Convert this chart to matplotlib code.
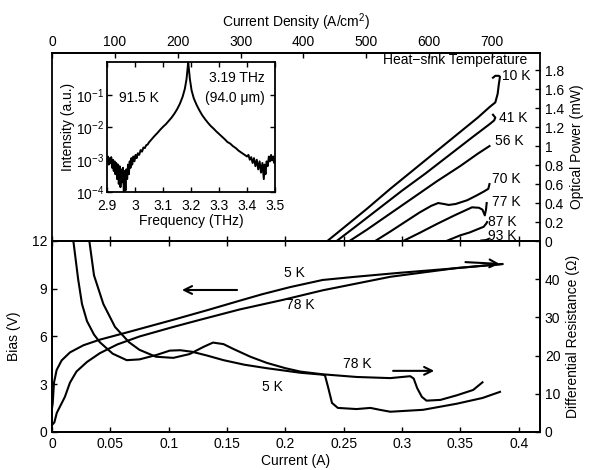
import matplotlib
matplotlib.use("Agg")
import matplotlib.pyplot as plt
import numpy as np
from matplotlib.ticker import FuncFormatter, NullLocator

plt.rcParams['font.family'] = ['Liberation Sans', 'DejaVu Sans']
plt.rcParams['font.size'] = 10
plt.rcParams['mathtext.fontset'] = 'custom'
plt.rcParams['mathtext.rm'] = 'Liberation Sans'
plt.rcParams['mathtext.it'] = 'Liberation Sans:italic'
plt.rcParams['axes.linewidth'] = 1.3
plt.rcParams['xtick.direction'] = 'in'
plt.rcParams['ytick.direction'] = 'in'
plt.rcParams['xtick.major.size'] = 3.5
plt.rcParams['ytick.major.size'] = 3.5
plt.rcParams['xtick.major.width'] = 1.0
plt.rcParams['ytick.major.width'] = 1.0

# current (A) -> current density (A/cm^2)
J_PER_A = 1856.0

# light-current curves (top panel), current in A, power in mW
li_temps = ['10 K', '41 K', '56 K', '70 K', '77 K', '87 K', '93 K']
li_current = [
    [0.236, 0.25, 0.27, 0.29, 0.31, 0.33, 0.35, 0.365, 0.375, 0.380, 0.382, 0.383, 0.384, 0.383, 0.380, 0.378],
    [0.244, 0.26, 0.28, 0.30, 0.32, 0.34, 0.36, 0.375, 0.379, 0.380, 0.378],
    [0.255, 0.27, 0.29, 0.31, 0.33, 0.35, 0.365, 0.375],
    [0.277, 0.29, 0.30, 0.315, 0.325, 0.331, 0.336, 0.34, 0.346, 0.356, 0.364, 0.370, 0.374, 0.375],
    [0.301, 0.315, 0.33, 0.345, 0.36, 0.366, 0.369, 0.371, 0.372, 0.3726],
    [0.338, 0.35, 0.358, 0.366, 0.370, 0.372, 0.373],
    [0.368, 0.372, 0.374],
]
li_power = [
    [0, 0.14, 0.34, 0.55, 0.75, 0.95, 1.15, 1.30, 1.41, 1.46, 1.55, 1.65, 1.73, 1.74, 1.74, 1.72],
    [0, 0.15, 0.34, 0.53, 0.71, 0.90, 1.09, 1.23, 1.27, 1.30, 1.33],
    [0, 0.12, 0.29, 0.46, 0.63, 0.79, 0.92, 1.0],
    [0, 0.10, 0.18, 0.30, 0.37, 0.40, 0.39, 0.38, 0.39, 0.43, 0.48, 0.52, 0.55, 0.60],
    [0, 0.085, 0.18, 0.27, 0.355, 0.35, 0.33, 0.27, 0.33, 0.40],
    [0, 0.06, 0.09, 0.13, 0.15, 0.18, 0.20],
    [0.005, 0.01, 0.02],
]
li_label_pos = [(0.386, 1.74), (0.383, 1.30), (0.380, 1.05), (0.377, 0.65),
                (0.377, 0.41), (0.374, 0.20), (0.374, 0.05)]

# I-V curves (bottom panel, left axis)
iv5_i = [0.0, 0.0006, 0.0017, 0.004, 0.0083, 0.0154, 0.027, 0.041, 0.064, 0.104, 0.133, 0.161,
         0.18, 0.204, 0.232, 0.26, 0.298, 0.34, 0.386]
iv5_v = [1.5, 1.8, 3.1, 3.9, 4.5, 5.0, 5.45, 5.8, 6.25, 7.05, 7.65, 8.25,
         8.65, 9.1, 9.55, 9.75, 10.0, 10.25, 10.55]
iv78_i = [0.0, 0.002, 0.0041, 0.011, 0.0154, 0.021, 0.030, 0.041, 0.056, 0.075, 0.104, 0.127,
          0.161, 0.198, 0.232, 0.29, 0.347, 0.386]
iv78_v = [0.44, 0.6, 1.2, 2.2, 3.1, 3.8, 4.4, 4.95, 5.5, 6.0, 6.6, 7.05,
          7.7, 8.3, 8.9, 9.75, 10.3, 10.55]

# differential resistance (bottom panel, right axis)
dr5_i = [0.0160, 0.0183, 0.0224, 0.0257, 0.030, 0.036, 0.041, 0.052, 0.064, 0.075, 0.09, 0.101,
         0.11, 0.12, 0.133, 0.147, 0.165, 0.184, 0.213, 0.232, 0.234, 0.2366, 0.240, 0.245,
         0.261, 0.273, 0.281, 0.29, 0.318, 0.347, 0.369, 0.384]
dr5_r = [60, 50, 40, 33.5, 29, 25.5, 23.5, 20.5, 18.8, 19.0, 20.2, 21.3,
         21.4, 21.0, 20.0, 18.8, 17.6, 16.7, 15.5, 15.0, 14.8, 11.8, 7.6, 6.3,
         6.0, 6.3, 5.8, 5.3, 5.8, 7.4, 8.9, 10.5]
dr78_i = [0.030, 0.032, 0.036, 0.044, 0.054, 0.066, 0.075, 0.089, 0.104, 0.118, 0.13, 0.138,
          0.147, 0.155, 0.17, 0.184, 0.2, 0.213, 0.232, 0.261, 0.29, 0.307, 0.310, 0.313,
          0.317, 0.321, 0.333, 0.347, 0.361, 0.369]
dr78_r = [60, 50, 41, 33.5, 27.5, 23.5, 21.5, 19.7, 19.4, 20.4, 22.3, 23.4,
          23.0, 21.8, 19.7, 18.1, 16.7, 15.8, 15.1, 14.4, 14.1, 14.6, 14.0, 11.5,
          9.2, 8.2, 8.4, 9.6, 11.0, 13.0]

# inset spectrum, frequency in THz, log10 of intensity
spec_f = [2.900, 2.903, 2.906, 2.909, 2.912, 2.915, 2.918, 2.921, 2.924, 2.927, 2.930, 2.933,
          2.936, 2.939, 2.942, 2.945, 2.948, 2.951, 2.954, 2.957, 2.960, 2.963, 2.966, 2.969,
          2.972, 2.975, 2.978, 2.981, 2.984, 2.987, 2.990, 2.994, 2.998, 3.002, 3.006, 3.010,
          3.015, 3.020, 3.025, 3.030, 3.035, 3.040, 3.045, 3.050, 3.060, 3.070, 3.080, 3.090,
          3.100, 3.110, 3.120, 3.130, 3.140, 3.150, 3.160, 3.170, 3.178, 3.184, 3.188, 3.190,
          3.192, 3.196, 3.202, 3.210, 3.220, 3.230, 3.240, 3.250, 3.260, 3.270, 3.280, 3.290,
          3.300, 3.310, 3.320, 3.330, 3.340, 3.350, 3.360, 3.370, 3.380, 3.390, 3.400, 3.405,
          3.410, 3.415, 3.420, 3.425, 3.430, 3.435, 3.440, 3.445, 3.450, 3.455, 3.460, 3.463,
          3.466, 3.470, 3.474, 3.478, 3.482, 3.486, 3.490, 3.494, 3.497, 3.500]
spec_log = [-3.05, -2.90, -3.15, -2.95, -3.10, -2.92, -3.25, -3.00, -3.35, -3.05, -3.45, -3.10,
            -3.60, -3.15, -3.75, -3.20, -3.85, -3.30, -3.70, -3.25, -4.00, -3.35, -3.95, -3.30,
            -3.60, -3.15, -3.45, -3.05, -3.25, -2.95, -3.15, -2.90, -3.05, -2.85, -2.95, -2.80,
            -2.85, -2.70, -2.75, -2.62, -2.64, -2.55, -2.53, -2.46, -2.36, -2.26, -2.17, -2.07,
            -1.98, -1.90, -1.80, -1.70, -1.58, -1.44, -1.27, -1.05, -0.80, -0.50, -0.15, 0.05,
            -0.15, -0.50, -0.85, -1.10, -1.30, -1.47, -1.62, -1.74, -1.85, -1.95, -2.03, -2.12,
            -2.20, -2.28, -2.36, -2.45, -2.50, -2.58, -2.64, -2.72, -2.78, -2.84, -2.90, -2.85,
            -3.00, -2.92, -3.10, -2.95, -3.20, -3.00, -3.30, -3.05, -3.40, -3.10, -3.60, -3.15,
            -3.45, -3.05, -3.20, -2.90, -3.05, -2.85, -3.00, -2.90, -3.10, -2.95]

i_max = 0.4183
fmt_g = FuncFormatter(lambda v, p: '%g' % round(v, 4))

fig = plt.figure(figsize=(5.89, 4.70), dpi=100)
ax_b = fig.add_axes([0.0883, 0.0809, 0.8285, 0.4064])
ax_t = fig.add_axes([0.0883, 0.4872, 0.8285, 0.400])
ax_r = ax_b.twinx()
ax_in = fig.add_axes([0.1817, 0.5915, 0.2852, 0.2766])

lw = 1.5

# ---- top panel: optical power ----
for cur, pw in zip(li_current, li_power):
    ax_t.plot(cur, pw, color='black', lw=lw)
for name, (x, y) in zip(li_temps, li_label_pos):
    ax_t.text(x, y, name, ha='left', va='center', fontsize=10)
ax_t.text(0.4075, 1.905, 'Heat\u2212sink Temperature', ha='right', va='center', fontsize=10)
ax_t.set_xlim(0, i_max)
ax_t.set_ylim(0, 1.98)
ax_t.set_xticks(np.arange(0, 0.41, 0.05))
ax_t.tick_params(axis='x', bottom=True, top=False, labelbottom=False)
ax_t.yaxis.tick_right()
ax_t.yaxis.set_label_position('right')
ax_t.set_yticks(np.arange(0, 1.81, 0.2))
ax_t.yaxis.set_major_formatter(fmt_g)
ax_t.set_ylabel('Optical Power (mW)', labelpad=4)

sec = ax_t.secondary_xaxis('top', functions=(lambda i: i * J_PER_A, lambda j: j / J_PER_A))
sec.set_xticks(np.arange(0, 701, 100))
sec.tick_params(direction='in', length=3.5, pad=3)
sec.set_xlabel('Current Density (A/cm$^2$)', labelpad=6)

# ---- bottom panel: bias and differential resistance ----
ax_b.plot(iv5_i, iv5_v, color='black', lw=lw)
ax_b.plot(iv78_i, iv78_v, color='black', lw=lw)
ax_r.plot(dr5_i, dr5_r, color='black', lw=lw)
ax_r.plot(dr78_i, dr78_r, color='black', lw=lw)

ax_b.set_xlim(0, i_max)
ax_b.set_ylim(0, 12)
ax_r.set_ylim(0, 50)
ax_b.set_xticks(np.arange(0, 0.41, 0.05))
ax_b.xaxis.set_major_formatter(fmt_g)
ax_b.set_yticks([0, 3, 6, 9, 12])
ax_b.tick_params(axis='x', top=True)
ax_r.set_yticks([0, 10, 20, 30, 40])
ax_b.set_xlabel('Current (A)', labelpad=2)
ax_b.set_ylabel('Bias (V)', labelpad=8)
ax_r.set_ylabel('Differential Resistance (\u03a9)', labelpad=4)

ax_b.text(0.208, 9.99, '5 K', ha='center', va='center')
ax_b.text(0.213, 7.98, '78 K', ha='center', va='center')
ax_b.text(0.262, 4.27, '78 K', ha='center', va='center')
ax_b.text(0.189, 2.83, '5 K', ha='center', va='center')

arrow = dict(arrowstyle='->', lw=1.5, color='black', mutation_scale=14)
ax_b.annotate('', xy=(0.109, 8.92), xytext=(0.161, 8.92), arrowprops=arrow)
ax_b.annotate('', xy=(0.386, 10.55), xytext=(0.352, 10.68), arrowprops=arrow)
ax_r.annotate('', xy=(0.330, 16.0), xytext=(0.290, 16.0), arrowprops=arrow)

# ---- inset spectrum ----
ax_in.plot(spec_f, 10 ** np.array(spec_log), color='black', lw=1.4)
ax_in.set_yscale('log')
ax_in.set_xlim(2.9, 3.5)
ax_in.set_ylim(1e-4, 1.07)
ax_in.set_yticks([1e-4, 1e-3, 1e-2, 1e-1])
ax_in.yaxis.set_minor_locator(NullLocator())
ax_in.set_xticks(np.arange(2.9, 3.51, 0.1))
ax_in.xaxis.set_major_formatter(fmt_g)
ax_in.tick_params(top=True, right=True)
ax_in.tick_params(axis='x', pad=5)
ax_in.tick_params(axis='y', pad=2)
ax_in.set_xlabel('Frequency (THz)', labelpad=1)
ax_in.set_ylabel('Intensity (a.u.)', labelpad=1)
ax_in.text(3.014, 0.083, '91.5 K', ha='center', va='center')
ax_in.text(3.465, 0.35, '3.19 THz', ha='right', va='center')
ax_in.text(3.465, 0.083, '(94.0 \u03bcm)', ha='right', va='center')

fig.savefig('out.png', dpi=100)
